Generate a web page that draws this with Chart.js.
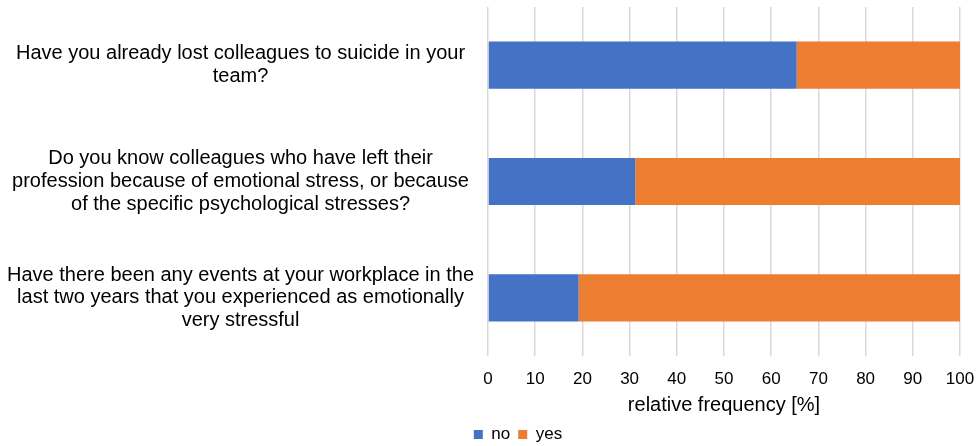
<!DOCTYPE html>
<html>
<head>
<meta charset="utf-8">
<script src="https://cdn.jsdelivr.net/npm/chart.js@4/dist/chart.umd.min.js"></script>
<style>
  html, body { margin: 0; padding: 0; background: #fff; }
  #wrap { width: 978px; height: 446px; }
</style>
</head>
<body>
<div id="wrap"><canvas id="chartFrecuencia"></canvas></div>
<script>
const preguntas = [
    ['Have you already lost colleagues to suicide in your', 'team?'],
    ['Do you know colleagues who have left their', 'profession because of emotional stress, or because', 'of the specific psychological stresses?'],
    ['Have there been any events at your workplace in the', 'last two years that you experienced as emotionally', 'very stressful']
];
const valoresNo = [65.4, 31.2, 19.2];
const valoresYes = [34.6, 68.8, 80.8];
const ticksX = [0, 10, 20, 30, 40, 50, 60, 70, 80, 90, 100];

const fuente = "'Liberation Sans', Arial, sans-serif";
Chart.defaults.font.family = fuente;
Chart.defaults.color = '#000';

// corre la leyenda a la derecha y un poco hacia abajo
const moverLeyenda = {
    id: 'moverLeyenda',
    afterLayout: (chart) => {
        const dx = 38;
        const dy = 13;
        chart.legend.left += dx;
        chart.legend.right += dx;
        chart.legend.top += dy;
        chart.legend.bottom += dy;
    }
};

const sinPadding = (scale) => {
    scale.paddingTop = 0;
    scale.paddingBottom = 0;
    scale.paddingLeft = 0;
    scale.paddingRight = 0;
};

const context = document.getElementById('chartFrecuencia').getContext('2d');

const chartFrecuencia = new Chart(context, {
    type: 'bar',
    data: {
        labels: preguntas,
        datasets: [
            { label: 'no', data: valoresNo, backgroundColor: '#4472C4' },
            { label: 'yes', data: valoresYes, backgroundColor: '#ED7D31' }
        ]
    },
    options: {
        indexAxis: 'y',
        responsive: true,
        maintainAspectRatio: false,
        animation: false,
        layout: { padding: { top: 7, right: 18, left: 0, bottom: 6 } },
        datasets: {
            bar: { categoryPercentage: 0.405, barPercentage: 1 }
        },
        scales: {
            x: {
                stacked: true,
                min: 0,
                max: 100,
                afterBuildTicks: (axis) => { axis.ticks = ticksX.map(v => ({ value: v })); },
                afterFit: sinPadding,
                grid: { color: '#d9d9d9', lineWidth: 1.5, drawTicks: false },
                border: { display: false },
                ticks: { font: { size: 17 }, padding: 13, maxRotation: 0 },
                title: {
                    display: true,
                    text: 'relative frequency [%]',
                    font: { size: 20 },
                    padding: { top: -9.4, bottom: -12 }
                }
            },
            y: {
                stacked: true,
                afterFit: (scale) => {
                    sinPadding(scale);
                    // las preguntas largas necesitan más de la mitad del ancho
                    scale.width = 488;
                },
                grid: { display: false },
                border: { display: false },
                ticks: { font: { size: 20, lineHeight: 1.13 }, crossAlign: 'center', padding: 6 }
            }
        },
        plugins: {
            legend: {
                position: 'bottom',
                labels: { boxWidth: 9, boxHeight: 9, font: { size: 17 }, padding: 8 }
            },
            tooltip: { enabled: false }
        }
    },
    plugins: [moverLeyenda]
});
</script>
</body>
</html>
